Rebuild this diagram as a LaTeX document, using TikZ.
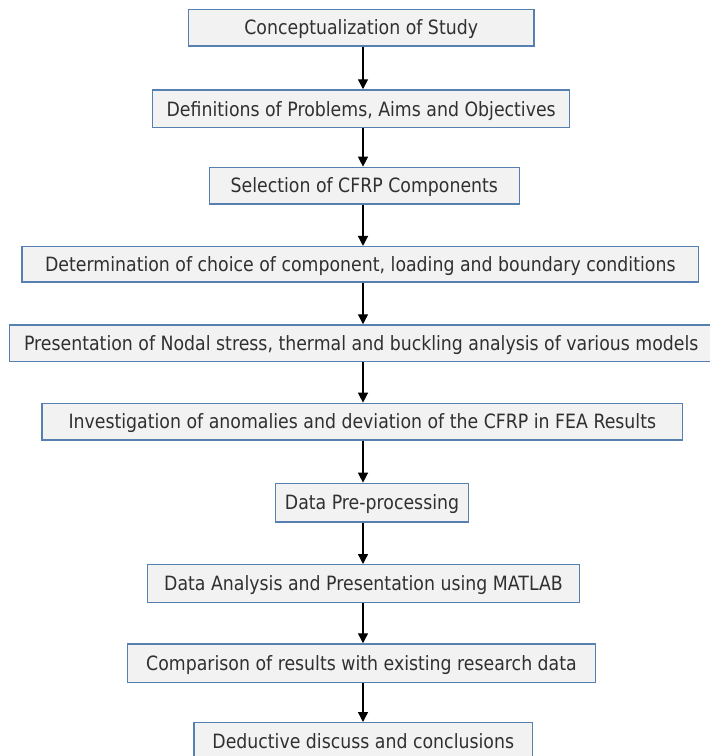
\documentclass[tikz,border=0pt]{standalone}
\usepackage{fontspec}
\setmainfont{DejaVu Sans}[FakeStretch=0.88]
\usetikzlibrary{arrows.meta}
\definecolor{boxline}{HTML}{5580B0}
\definecolor{boxfill}{HTML}{F2F2F2}
\definecolor{txt}{HTML}{303030}
\tikzset{
  stepbox/.style={draw=boxline, line width=1.4pt, fill=boxfill, inner sep=0pt,
    text=txt, font=\fontsize{19.7}{22}\selectfont, align=center,
    text height=14.4pt, text depth=0pt},
  arr/.style={line width=1.4pt, -{Triangle[length=10pt,width=10pt]}}
}
\begin{document}
\begin{tikzpicture}[x=1pt,y=-1pt]
\useasboundingbox (0,0) rectangle (710,756);
\node[stepbox, minimum width=345.7pt, minimum height=36.7pt] (b1) at (361.2,27.7) {Conceptualization of Study};
\node[stepbox, minimum width=417pt, minimum height=37.7pt] (b2) at (361.2,108.8) {Definitions of Problems, Aims and Objectives};
\node[stepbox, minimum width=310pt, minimum height=36.7pt] (b3) at (364.3,185.7) {Selection of CFRP Components};
\node[stepbox, minimum width=676.7pt, minimum height=35.3pt] (b4) at (360.3,264.3) {Determination of choice of component, loading and boundary conditions};
\node[stepbox, minimum width=703pt, minimum height=36.7pt] (b5) at (361.2,343.3) {Presentation of Nodal stress, thermal and buckling analysis of various models};
\node[stepbox, minimum width=640.7pt, minimum height=36.7pt] (b6) at (362.3,421.7) {Investigation of anomalies and deviation of the CFRP in FEA Results};
\node[stepbox, minimum width=193.4pt, minimum height=38.7pt] (b7) at (372,502.7) {Data Pre-processing};
\node[stepbox, minimum width=431.6pt, minimum height=38pt] (b8) at (363.5,583.7) {Data Analysis and Presentation using MATLAB};
\node[stepbox, minimum width=468.4pt, minimum height=38.7pt] (b9) at (361.5,663.3) {Comparison of results with existing research data};
\node[stepbox, minimum width=338.3pt, minimum height=38pt] (b10) at (363.2,741.7) {Deductive discuss and conclusions};
\coordinate (ax) at (363,0);
\foreach \a/\b in {b1/b2,b2/b3,b3/b4,b4/b5,b5/b6,b6/b7,b7/b8,b8/b9,b9/b10}
  \draw[arr] (\a.south -| ax) -- (\b.north -| ax);
\end{tikzpicture}
\end{document}
